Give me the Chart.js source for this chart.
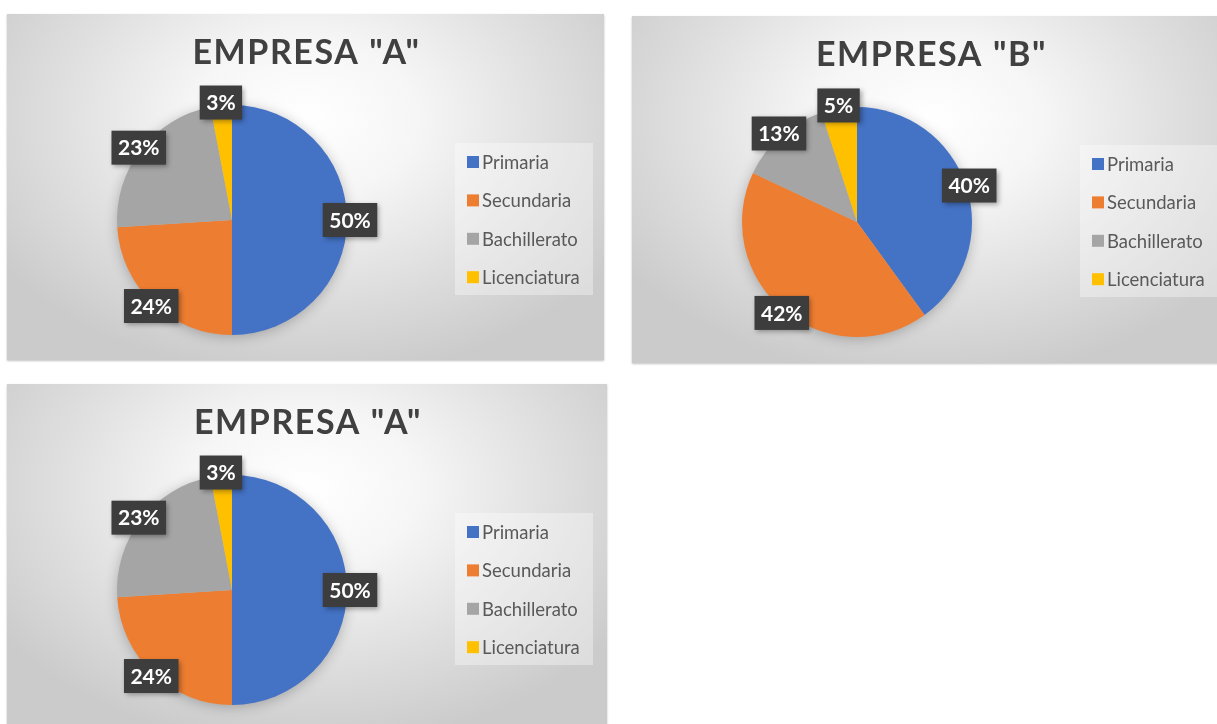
<!DOCTYPE html>
<html>
<head>
<meta charset="utf-8">
<script src="https://cdn.jsdelivr.net/npm/chart.js@4/dist/chart.umd.min.js"></script>
<style>
  html, body { margin: 0; padding: 0; background: #ffffff; width: 1217px; height: 724px; overflow: hidden; }
  .panel {
    position: absolute;
    background: radial-gradient(ellipse 62% 75% at 50% 30%, #ffffff 0%, #f6f6f6 30%, #e0e0e0 65%, #cbcbcb 100%);
    box-shadow: 0 1px 2px rgba(0,0,0,0.25);
  }
  .panel canvas { display: block; }
</style>
</head>
<body>
<div class="panel" id="pA1" style="left:7px; top:14px; width:597px; height:346px;"><canvas id="cA1" width="597" height="346"></canvas></div>
<div class="panel" id="pB"  style="left:632px; top:16px; width:597px; height:347px;"><canvas id="cB" width="597" height="347"></canvas></div>
<div class="panel" id="pA2" style="left:7px; top:384px; width:600px; height:346px;"><canvas id="cA2" width="600" height="346"></canvas></div>
<script>
// Nivel de estudios del personal por empresa (porcentajes)
const categories = ['Primaria', 'Secundaria', 'Bachillerato', 'Licenciatura'];
const empresaA = [50, 24, 23, 3];
const empresaB = [40, 42, 13, 5];
const titleA = 'EMPRESA "A"';
const titleB = 'EMPRESA "B"';
const sliceColors = ['#4472C4', '#ED7D31', '#A5A5A5', '#FFC000'];

const FONT = 'Lato, "Open Sans", sans-serif';

// Title, legend, soft shadow under the pie and dark value boxes
const decorPlugin = {
  id: 'decor',
  beforeDatasetsDraw(chart) {
    const meta = chart.getDatasetMeta(0);
    if (!meta.data.length) return;
    const arc = meta.data[0];
    const { x, y, outerRadius } = arc.getProps(['x', 'y', 'outerRadius'], true);
    const ctx = chart.ctx;
    ctx.save();
    ctx.shadowColor = 'rgba(0,0,0,0.28)';
    ctx.shadowBlur = 14;
    ctx.shadowOffsetY = 2;
    ctx.fillStyle = '#bbbbbb';
    ctx.beginPath();
    ctx.arc(x, y, outerRadius - 1, 0, Math.PI * 2);
    ctx.fill();
    ctx.restore();
  },
  afterDraw(chart, args, opts) {
    const ctx = chart.ctx;
    const W = chart.width;

    // Title
    ctx.save();
    ctx.fillStyle = '#404040';
    ctx.font = 'bold 34px ' + FONT;
    ctx.letterSpacing = '1.6px';
    ctx.textAlign = 'center';
    ctx.textBaseline = 'alphabetic';
    ctx.fillText(opts.title, W / 2 + 1, 50);
    ctx.restore();

    // Legend
    const ds = chart.data.datasets[0];
    const lx = 448, ly = 129, lw = 138, lh = 152;
    ctx.save();
    ctx.fillStyle = 'rgba(255,255,255,0.35)';
    ctx.fillRect(lx, ly, lw, lh);
    ctx.font = '18.5px ' + FONT;
    ctx.textBaseline = 'middle';
    ctx.textAlign = 'left';
    chart.data.labels.forEach((lab, i) => {
      const cy = 148 + i * 38.4;
      ctx.fillStyle = ds.backgroundColor[i];
      ctx.fillRect(460, cy - 6, 12, 12);
      ctx.fillStyle = '#595959';
      ctx.fillText(lab, 475, cy + 1);
    });
    ctx.restore();

    // Value boxes on the pie edge
    const meta = chart.getDatasetMeta(0);
    const total = ds.data.reduce((a, b) => a + b, 0);
    ctx.save();
    ctx.font = 'bold 21px ' + FONT;
    ctx.textAlign = 'center';
    ctx.textBaseline = 'middle';
    meta.data.forEach((arc, i) => {
      const p = arc.getProps(['x', 'y', 'startAngle', 'endAngle', 'outerRadius'], true);
      const mid = (p.startAngle + p.endAngle) / 2;
      const r = p.outerRadius + 3;
      const cx = p.x + Math.cos(mid) * r;
      const cy = p.y + Math.sin(mid) * r;
      const txt = Math.round(ds.data[i] / total * 100) + '%';
      const tw = ctx.measureText(txt).width;
      const bw = tw + 13, bh = 34;
      ctx.save();
      ctx.shadowColor = 'rgba(0,0,0,0.35)';
      ctx.shadowBlur = 5;
      ctx.shadowOffsetX = 2;
      ctx.shadowOffsetY = 2;
      ctx.fillStyle = '#3d3d3d';
      ctx.fillRect(cx - bw / 2, cy - bh / 2, bw, bh);
      ctx.restore();
      ctx.fillStyle = '#ffffff';
      ctx.fillText(txt, cx, cy + 1);
    });
    ctx.restore();
  }
};

function makePie(canvasId, title, values) {
  const canvas = document.getElementById(canvasId);
  const W = canvas.width, H = canvas.height;
  return new Chart(canvas, {
    type: 'pie',
    data: {
      labels: categories,
      datasets: [{
        data: values,
        backgroundColor: sliceColors,
        borderWidth: 0
      }]
    },
    options: {
      responsive: false,
      animation: false,
      devicePixelRatio: 1,
      layout: { padding: { left: 110, top: 91, right: W - 340, bottom: H - 321 } },
      plugins: {
        legend: { display: false },
        title: { display: false },
        tooltip: { enabled: false },
        decor: { title: title }
      }
    },
    plugins: [decorPlugin]
  });
}

makePie('cA1', titleA, empresaA);
makePie('cB', titleB, empresaB);
makePie('cA2', titleA, empresaA);
</script>
</body>
</html>
